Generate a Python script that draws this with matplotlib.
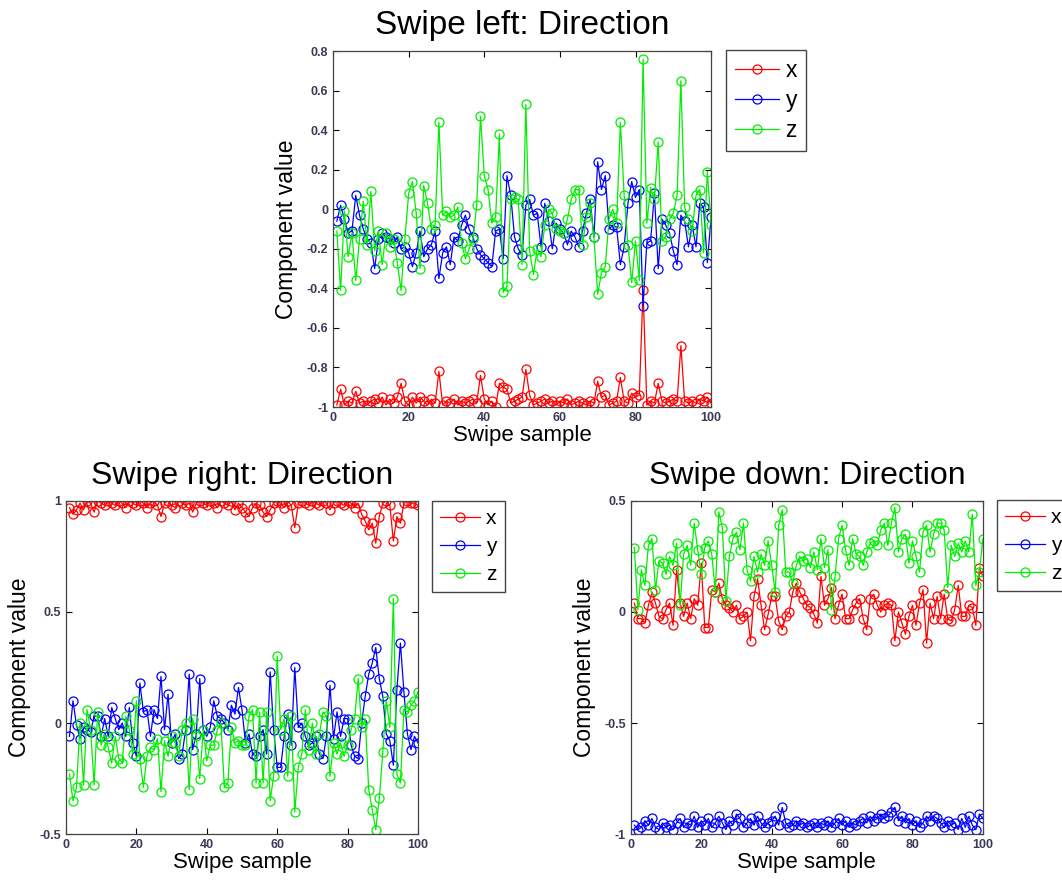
import numpy as np
import matplotlib.pyplot as plt

plt.rcParams['font.family'] = ['Liberation Sans', 'DejaVu Sans']

samples = np.arange(1, 101)

# Swipe left
left_x = [-0.99, -0.91, -0.99, -0.97, -0.98, -0.92, -0.98, -0.97, -0.99, -0.97,
          -0.96, -0.98, -0.95, -0.99, -0.96, -0.98, -0.95, -0.88, -0.97, -0.99,
          -0.95, -0.98, -0.95, -0.97, -0.99, -0.96, -0.98, -0.82, -0.99, -0.97,
          -0.98, -0.96, -0.99, -0.97, -0.98, -0.97, -0.96, -0.98, -0.84, -0.96,
          -0.99, -0.97, -1.00, -0.88, -0.90, -0.91, -0.98, -0.97, -0.96, -0.95,
          -0.81, -0.94, -0.99, -0.98, -0.97, -0.96, -0.98, -0.97, -0.99, -0.97,
          -0.98, -0.96, -0.99, -0.98, -0.97, -0.98, -0.99, -0.97, -0.98, -0.87,
          -0.95, -0.94, -0.99, -0.98, -0.97, -0.85, -0.97, -0.98, -0.93, -0.95,
          -0.94, -0.41, -0.99, -0.97, -0.98, -0.88, -0.97, -0.98, -0.97, -0.96,
          -0.97, -0.69, -0.97, -0.98, -0.97, -0.98, -0.96, -0.97, -0.95, -0.98]
left_y = [-0.06, 0.02, -0.05, -0.12, -0.11, 0.07, -0.03, -0.10, -0.15, -0.17,
          -0.30, -0.15, -0.12, -0.14, -0.15, -0.17, -0.14, -0.20, -0.19, -0.22,
          -0.29, -0.22, -0.11, -0.24, -0.20, -0.18, -0.11, -0.35, -0.22, -0.19,
          -0.28, -0.14, -0.16, -0.08, -0.03, -0.10, -0.14, -0.20, -0.23, -0.25,
          -0.27, -0.29, -0.11, -0.10, -0.25, 0.17, 0.07, -0.14, -0.20, -0.23,
          0.02, 0.05, -0.03, -0.02, -0.19, 0.03, -0.06, -0.20, -0.07, -0.10,
          -0.12, -0.18, -0.11, -0.14, -0.19, -0.11, -0.02, 0.05, -0.14, 0.24,
          0.10, 0.17, -0.10, -0.08, -0.09, -0.28, -0.19, 0.03, 0.14, 0.06,
          0.10, -0.49, -0.17, -0.16, 0.08, -0.30, -0.05, -0.08, -0.12, -0.21,
          -0.28, -0.03, -0.06, -0.19, -0.08, -0.19, 0.03, 0.01, -0.27, -0.04]
left_z = [-0.11, -0.41, -0.01, -0.24, -0.12, -0.36, -0.15, 0.04, -0.18, 0.09,
          -0.21, -0.11, -0.28, -0.12, -0.19, -0.15, -0.27, -0.41, -0.15, 0.08,
          0.14, -0.02, -0.30, 0.12, 0.03, -0.10, -0.08, 0.44, -0.03, -0.01,
          -0.04, -0.03, 0.01, -0.17, -0.25, -0.20, -0.15, 0.02, 0.47, 0.17,
          0.10, -0.07, -0.04, 0.38, -0.42, -0.39, 0.05, 0.06, 0.05, -0.28,
          0.53, -0.21, -0.33, -0.20, -0.24, -0.08, 0.00, -0.02, -0.10, -0.11,
          -0.12, -0.05, 0.05, 0.10, 0.10, -0.18, -0.04, 0.03, -0.14, -0.43,
          -0.32, -0.29, -0.05, 0.00, -0.07, 0.44, 0.07, -0.18, -0.37, -0.16,
          -0.36, 0.76, -0.07, 0.11, 0.05, 0.34, -0.16, -0.14, -0.05, -0.02,
          0.07, 0.65, 0.01, -0.05, -0.11, 0.07, 0.10, -0.22, 0.19, -0.08]

# Swipe right
right_x = [0.97, 0.94, 0.96, 0.99, 0.96, 1.00, 0.99, 0.95, 1.00, 0.99,
           0.98, 1.00, 0.99, 0.98, 1.00, 0.99, 0.97, 1.00, 0.99, 0.98,
           1.00, 0.99, 0.97, 0.99, 1.00, 0.98, 0.93, 0.99, 1.00, 0.98,
           0.97, 1.00, 0.99, 0.98, 0.99, 0.95, 0.99, 1.00, 0.99, 0.98,
           1.00, 0.99, 0.97, 1.00, 0.99, 0.98, 1.00, 0.96, 0.99, 0.97,
           0.95, 0.93, 0.97, 0.99, 0.98, 0.95, 0.93, 0.96, 0.99, 1.00,
           0.99, 0.97, 1.00, 0.98, 0.88, 0.99, 1.00, 0.99, 0.98, 1.00,
           0.99, 0.98, 1.00, 0.99, 0.96, 0.99, 1.00, 0.99, 0.98, 1.00,
           0.99, 0.97, 0.99, 0.94, 0.91, 0.87, 0.90, 0.81, 0.93, 0.99,
           1.00, 0.98, 0.82, 0.93, 0.90, 0.99, 1.00, 0.99, 0.99, 0.98]
right_y = [-0.06, 0.10, -0.01, -0.07, -0.02, -0.03, -0.04, 0.03, 0.03, -0.06,
           0.02, -0.06, 0.07, 0.02, -0.03, 0.00, -0.06, 0.07, -0.09, -0.15,
           0.18, 0.05, 0.06, -0.06, 0.06, 0.02, 0.21, -0.03, 0.13, -0.09,
           -0.05, -0.16, -0.14, -0.03, 0.22, -0.12, -0.05, 0.20, -0.03, -0.06,
           -0.02, 0.10, 0.03, 0.02, 0.00, -0.03, 0.08, 0.04, 0.16, 0.06,
           -0.09, -0.05, -0.14, -0.15, -0.06, -0.03, -0.14, 0.23, -0.03, -0.20,
           -0.20, -0.06, 0.04, -0.10, 0.25, -0.02, 0.00, -0.06, -0.10, -0.09,
           -0.06, -0.14, -0.16, -0.06, 0.17, -0.07, 0.05, -0.06, 0.02, 0.02,
           -0.10, -0.15, -0.16, 0.00, 0.12, 0.22, 0.27, 0.34, 0.20, 0.12,
           -0.05, -0.08, -0.19, 0.15, 0.36, 0.14, -0.05, -0.12, -0.06, -0.09]
right_z = [-0.23, -0.35, -0.29, 0.00, -0.28, 0.06, -0.03, -0.28, 0.05, -0.10,
           -0.05, -0.11, -0.18, -0.06, -0.16, -0.18, 0.03, -0.03, -0.14, 0.10,
           -0.16, -0.29, -0.15, -0.11, -0.12, -0.07, -0.31, -0.08, -0.15, -0.06,
           -0.09, -0.15, -0.03, 0.00, -0.30, 0.02, -0.06, -0.25, -0.03, -0.17,
           -0.10, -0.10, -0.03, 0.00, -0.29, -0.27, -0.02, -0.09, -0.08, -0.10,
           -0.10, 0.03, 0.06, -0.27, 0.05, -0.27, 0.05, -0.35, -0.24, 0.30,
           -0.03, 0.02, -0.24, 0.03, -0.40, -0.20, -0.14, 0.06, -0.12, 0.00,
           -0.14, -0.05, 0.05, 0.03, -0.24, -0.09, -0.14, -0.09, -0.15, -0.10,
           -0.03, 0.02, 0.20, -0.02, 0.02, -0.30, -0.39, -0.48, -0.34, -0.13,
           0.10, -0.02, 0.56, -0.23, -0.27, 0.06, 0.05, 0.08, 0.10, 0.14]

# Swipe down
down_x = [0.04, -0.03, -0.03, -0.05, 0.03, 0.09, 0.04, -0.02, -0.03, 0.01,
          0.04, -0.06, 0.19, 0.04, -0.02, 0.04, -0.03, 0.06, 0.03, 0.22,
          -0.07, -0.07, 0.10, 0.09, 0.13, 0.06, 0.03, 0.02, 0.00, 0.03,
          -0.03, -0.02, 0.00, -0.13, 0.07, 0.15, 0.03, -0.08, -0.01, 0.07,
          0.07, -0.04, -0.08, -0.02, 0.00, 0.09, 0.13, 0.09, 0.06, 0.03,
          0.02, -0.01, -0.05, 0.16, 0.03, 0.06, 0.11, -0.03, 0.03, 0.08,
          -0.03, -0.03, 0.01, 0.04, 0.06, -0.03, -0.08, 0.06, 0.08, 0.03,
          0.00, 0.03, 0.04, 0.03, -0.13, 0.00, -0.05, -0.10, -0.02, 0.03,
          -0.06, 0.04, 0.10, -0.14, 0.04, -0.03, 0.07, -0.03, 0.08, -0.03,
          -0.04, 0.01, 0.12, -0.02, -0.02, 0.03, 0.02, -0.06, 0.20, 0.16]
down_y = [-0.96, -0.98, -0.97, -0.94, -0.96, -0.93, -0.97, -0.98, -0.95, -0.97,
          -0.96, -0.98, -0.95, -0.93, -0.97, -0.95, -0.96, -0.92, -0.97, -0.94,
          -0.96, -0.93, -0.97, -0.95, -0.92, -0.95, -0.98, -0.94, -0.96, -0.91,
          -0.93, -0.97, -0.95, -0.93, -0.96, -0.92, -0.95, -0.97, -0.95, -0.94,
          -0.92, -0.96, -0.88, -0.95, -0.97, -0.96, -0.94, -0.96, -0.95, -0.97,
          -0.96, -0.95, -0.97, -0.95, -0.96, -0.94, -0.97, -0.95, -0.93, -0.96,
          -0.94, -0.97, -0.95, -0.96, -0.94, -0.93, -0.95, -0.92, -0.94, -0.93,
          -0.91, -0.93, -0.92, -0.90, -0.88, -0.94, -0.92, -0.95, -0.93, -0.96,
          -0.94, -0.97, -0.95, -0.92, -0.94, -0.92, -0.93, -0.95, -0.97, -0.94,
          -0.96, -0.95, -0.98, -0.93, -0.97, -0.92, -0.96, -0.98, -0.91, -0.93]
down_z = [0.29, 0.01, 0.19, 0.12, 0.30, 0.33, 0.10, 0.23, 0.22, 0.17,
          0.25, 0.21, 0.31, 0.03, 0.26, 0.30, 0.21, 0.40, 0.28, 0.17,
          0.29, 0.32, 0.26, 0.09, 0.45, 0.38, 0.05, 0.25, 0.33, 0.36,
          0.28, 0.40, 0.19, 0.14, 0.25, 0.18, 0.26, 0.21, 0.32, 0.21,
          0.09, 0.39, 0.46, 0.18, 0.18, 0.13, 0.21, 0.25, 0.23, 0.24,
          0.20, 0.27, 0.19, 0.33, 0.20, 0.28, 0.01, 0.16, 0.33, 0.39,
          0.28, 0.21, 0.33, 0.26, 0.25, 0.21, 0.27, 0.31, 0.32, 0.30,
          0.37, 0.40, 0.30, 0.40, 0.47, 0.27, 0.33, 0.35, 0.22, 0.32,
          0.25, 0.18, 0.36, 0.39, 0.27, 0.35, 0.40, 0.40, 0.37, 0.11,
          0.30, 0.25, 0.31, 0.27, 0.32, 0.27, 0.44, 0.12, 0.18, 0.33]

colors = {'x': '#ff0000', 'y': '#0000ff', 'z': '#00ee00'}

fig = plt.figure(figsize=(10.62, 8.82), dpi=100)

# (title, axes rect, series, ylim, yticks, legend corner, title size, legend size, legend spacing)
panels = [
    ('Swipe left: Direction', [0.3136, 0.5385, 0.356, 0.4036],
     (left_x, left_y, left_z), (-1, 0.8), np.arange(-1, 0.81, 0.2),
     (726 / 1062, 1 - 50 / 882), 24, 16.5, 0.30),
    ('Swipe right: Direction', [0.0621, 0.0544, 0.3315, 0.3776],
     (right_x, right_y, right_z), (-0.5, 1), [-0.5, 0, 0.5, 1],
     (432 / 1062, 1 - 501 / 882), 23, 15, 0.42),
    ('Swipe down: Direction', [0.594, 0.0544, 0.3315, 0.3776],
     (down_x, down_y, down_z), (-1, 0.5), [-1, -0.5, 0, 0.5],
     (997 / 1062, 1 - 500 / 882), 23, 15, 0.42),
]

for title, rect, series, ylim, yticks, leg_pos, tsize, lsize, lspace in panels:
    ax = fig.add_axes(rect)
    for name, vals in zip(['x', 'y', 'z'], series):
        ax.plot(samples, vals, color=colors[name], lw=0.9, marker='o',
                ms=6.5, mfc='none', mew=0.9, label=name)
    ax.set_xlim(0, 100)
    ax.set_ylim(*ylim)
    ax.set_xticks(np.arange(0, 101, 20))
    ax.set_yticks(yticks)
    ax.set_yticklabels(['%g' % (round(v, 1) + 0.0) if abs(v) > 1e-9 else '0'
                        for v in yticks])
    ax.tick_params(direction='in', top=True, right=True, labelsize=9,
                   labelcolor='#3a3a55', length=4, width=0.8)
    for lbl in ax.get_xticklabels() + ax.get_yticklabels():
        lbl.set_fontweight('bold')
    for s in ax.spines.values():
        s.set_color('#444444')
        s.set_linewidth(0.9)
    ax.set_title(title, fontsize=tsize, pad=12)
    ax.set_xlabel('Swipe sample', fontsize=16, labelpad=1)
    ax.set_ylabel('Component value', fontsize=16.5, labelpad=6)
    fig.legend(handles=ax.get_lines(), loc='upper left',
               bbox_to_anchor=leg_pos, borderaxespad=0, fontsize=lsize,
               fancybox=False, edgecolor='#444444', framealpha=1,
               handlelength=1.9, numpoints=1, labelspacing=lspace,
               handletextpad=0.3, borderpad=0.4)

fig.savefig('out.png', dpi=100)
